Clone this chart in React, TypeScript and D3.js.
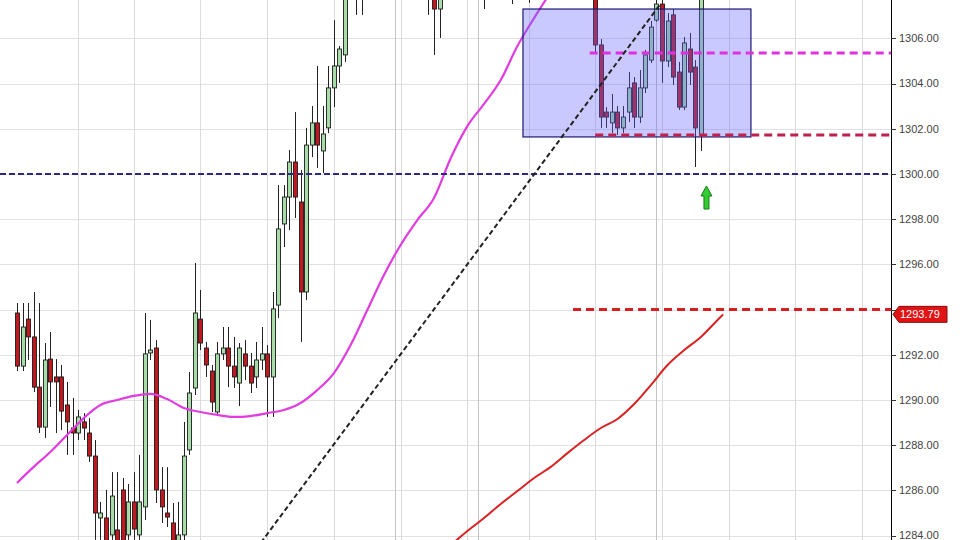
import React from 'react';
import * as d3 from 'd3';

// OHLC per bar (bar index = position in array)
const opens = [
  1293.85, 1291.5, 1293.58, 1292.79, 1290.57, 1288.8, 1291.81, 1291.02, 1291.02, 1289.78,
  1288.76, 1288.54, 1289.03, 1288.54, 1287.52, 1284.78, 1284.78, 1284.03, 1284.25, 1286.02,
  1284.03, 1285.49, 1284.03, 1285.27, 1292.08, 1292.3, 1286.02, 1285.0, 1284.56, 1283.58,
  1284.03, 1287.79, 1290.53, 1293.58, 1292.3, 1291.28, 1289.47, 1292.04, 1292.3, 1291.5,
  1290.75, 1292.04, 1291.5, 1291.02, 1291.77, 1292.04, 1291.02, 1294.2, 1297.79, 1298.98,
  1300.53, 1298.76, 1294.78, 1301.28, 1302.26, 1301.02, 1302.04, 1303.81, 1304.78, 1305.27,
  1309.0, 1309.8, 1308.6, 1309.6, 1310.6, 1311.2, 1310.8, 1310.2, 1309.6, 1310.0,
  1310.8, 1310.2, 1309.4, 1309.0, 1308.4, 1309.2, 1307.3, 1308.6, 1309.6, 1310.4,
  1311.0, 1310.4, 1309.8, 1309.0, 1308.8, 1309.2, 1310.0, 1310.6, 1310.2, 1309.6,
  1309.0, 1309.6, 1309.2, 1308.8, 1309.6, 1310.4, 1310.8, 1311.0, 1310.6, 1310.2,
  1309.6, 1309.0, 1308.6, 1308.4, 1309.4, 1305.71, 1302.74, 1302.26, 1302.74, 1302.04,
  1302.74, 1304.03, 1302.52, 1303.81, 1305.04, 1306.81, 1307.52, 1305.0, 1307.04, 1304.51,
  1302.96, 1305.53, 1304.73, 1301.73,
];
const highs = [
  1294.29, 1294.29, 1294.29, 1294.78, 1294.29, 1292.52, 1293.01, 1291.81, 1291.55, 1290.8,
  1290.09, 1289.56, 1289.42, 1289.2, 1288.23, 1285.49, 1286.02, 1286.81, 1286.81, 1286.55,
  1286.28, 1286.81, 1287.57, 1293.85, 1293.54, 1292.65, 1287.03, 1287.03, 1285.44, 1285.49,
  1289.03, 1291.24, 1296.06, 1294.87, 1292.57, 1291.55, 1292.57, 1293.23, 1293.23, 1292.79,
  1292.52, 1292.65, 1292.08, 1292.57, 1293.23, 1292.43, 1294.78, 1299.51, 1299.51, 1301.06,
  1302.74, 1300.18, 1302.04, 1303.01, 1304.78, 1303.01, 1304.78, 1306.81, 1305.66, 1309.69,
  1310.2, 1310.5, 1310.0, 1311.0, 1311.8, 1312.0, 1311.6, 1311.0, 1310.4, 1311.2,
  1311.5, 1310.8, 1310.2, 1309.8, 1309.4, 1309.6, 1309.0, 1310.0, 1310.8, 1311.4,
  1311.6, 1311.0, 1310.4, 1309.8, 1309.6, 1310.4, 1311.0, 1311.2, 1310.8, 1310.2,
  1310.0, 1310.6, 1309.8, 1310.0, 1310.8, 1311.2, 1311.6, 1311.4, 1311.0, 1310.8,
  1310.2, 1309.6, 1309.2, 1309.0, 1309.8, 1305.97, 1302.96, 1303.54, 1303.01, 1303.01,
  1304.51, 1304.29, 1304.6, 1305.49, 1306.77, 1307.9, 1308.0, 1307.12, 1307.3, 1304.96,
  1306.06, 1306.24, 1305.04, 1309.5,
];
const lows = [
  1291.28, 1291.28, 1291.77, 1290.35, 1288.54, 1288.32, 1289.69, 1288.54, 1288.67, 1287.57,
  1287.57, 1288.23, 1288.23, 1287.26, 1283.81, 1283.81, 1283.36, 1283.81, 1283.14, 1283.14,
  1283.81, 1283.81, 1283.81, 1284.69, 1291.77, 1285.44, 1284.56, 1284.38, 1283.14, 1283.36,
  1283.58, 1287.57, 1290.22, 1292.21, 1291.02, 1289.47, 1289.38, 1291.77, 1290.57, 1290.53,
  1289.73, 1290.88, 1290.31, 1290.53, 1291.33, 1289.25, 1289.25, 1293.63, 1296.77, 1297.52,
  1298.05, 1292.57, 1294.42, 1300.75, 1300.27, 1300.04, 1301.81, 1302.96, 1304.03, 1304.96,
  1308.4, 1307.04, 1307.04, 1309.0, 1310.0, 1310.4, 1309.8, 1309.2, 1308.6, 1309.4,
  1309.8, 1309.0, 1308.4, 1308.0, 1307.04, 1305.27, 1306.02, 1308.0, 1309.0, 1309.8,
  1310.0, 1309.4, 1308.6, 1308.2, 1307.3, 1308.8, 1309.4, 1309.8, 1309.2, 1307.52,
  1308.4, 1308.8, 1307.57, 1308.2, 1309.0, 1309.6, 1310.0, 1310.2, 1309.8, 1309.2,
  1308.6, 1308.2, 1308.0, 1307.9, 1305.4, 1302.04, 1302.04, 1301.81, 1301.73, 1301.81,
  1302.3, 1302.04, 1302.26, 1303.58, 1304.91, 1306.73, 1304.03, 1304.73, 1303.94, 1302.83,
  1302.83, 1303.94, 1300.31, 1301.02,
];
const closes = [
  1291.5, 1293.23, 1292.79, 1290.57, 1288.8, 1291.77, 1290.8, 1290.8, 1289.51, 1289.03,
  1288.54, 1289.25, 1288.76, 1287.52, 1285.0, 1285.0, 1283.58, 1285.75, 1283.45, 1283.58,
  1285.49, 1284.29, 1285.49, 1292.04, 1292.21, 1286.02, 1285.27, 1284.82, 1283.45, 1284.03,
  1287.52, 1290.31, 1293.85, 1292.52, 1291.55, 1289.91, 1292.04, 1292.3, 1291.5, 1291.02,
  1292.3, 1291.5, 1290.75, 1291.77, 1292.04, 1291.02, 1294.03, 1297.57, 1298.98, 1300.53,
  1298.98, 1294.78, 1301.28, 1302.26, 1301.28, 1301.77, 1303.81, 1304.78, 1305.53, 1309.03,
  1309.8, 1308.6, 1309.6, 1310.6, 1311.2, 1310.8, 1310.2, 1309.6, 1310.0, 1310.8,
  1310.2, 1309.4, 1309.0, 1308.4, 1308.8, 1307.3, 1308.6, 1309.6, 1310.4, 1311.0,
  1310.4, 1309.8, 1309.0, 1308.8, 1309.2, 1310.0, 1310.6, 1310.2, 1309.6, 1309.0,
  1309.6, 1309.2, 1308.8, 1309.6, 1310.4, 1310.8, 1311.0, 1310.6, 1310.2, 1309.6,
  1309.0, 1308.6, 1308.4, 1308.9, 1305.71, 1302.52, 1302.52, 1302.74, 1302.04, 1302.52,
  1303.81, 1302.52, 1303.81, 1305.27, 1306.5, 1307.52, 1305.0, 1306.77, 1304.29, 1302.96,
  1305.8, 1304.51, 1302.04, 1309.03,
];

// price axis
const yTicks = [1284, 1286, 1288, 1290, 1292, 1294, 1296, 1298, 1300, 1302, 1304, 1306];

// time grid (bar index)
const gridBars = [11, 21, 33, 45, 57, 69, 81, 92, 104, 116, 128, 140, 152];
const sessionBars = [68, 83, 115];

// pink moving average (bar index / value)
const pinkMaBars = [0, 3, 6, 9, 12, 15, 18, 21, 24, 27, 30, 33, 36, 39, 42, 45, 48, 51, 54, 57, 60, 63, 66, 69, 72, 75, 78, 81, 84, 87, 90, 93, 96];
const pinkMaVals = [
  1286.33, 1287.04, 1287.7, 1288.45, 1289.2, 1289.78, 1290.0, 1290.18, 1290.27, 1290.04,
  1289.65, 1289.47, 1289.34, 1289.25, 1289.29, 1289.42, 1289.56, 1289.87, 1290.44, 1291.19,
  1292.43, 1293.98, 1295.53, 1296.86, 1297.96, 1298.94, 1300.7, 1302.12, 1303.1, 1304.16,
  1305.66, 1306.9, 1308.05,
];

// red moving average
const redMaBars = [78, 81, 84, 87, 90, 93, 96, 99, 102, 105, 108, 111, 114, 117, 120, 123, 126, 127];
const redMaVals = [
  1283.58, 1284.2, 1284.78, 1285.4, 1285.97, 1286.55, 1287.04, 1287.65, 1288.23, 1288.76,
  1289.16, 1289.82, 1290.66, 1291.55, 1292.21, 1292.79, 1293.54, 1293.79,
];

// drawings
const roundLevel = 1300;
const zoneBars = [91, 132];
const zoneVals = [1301.64, 1307.3];
const pinkLevel = 1305.35;
const pinkLevelFrom = 103;
const crimsonLevel = 1301.73;
const crimsonLevelFrom = 104;
const redLevel = 1294.0;
const redLevelFrom = 100;
const trendBars = [43, 115.6];
const trendVals = [1283.4, 1307.48];
const arrowBar = 124;
const arrowVals = [1298.45, 1299.47];
const lastPrice = 1293.79;

export default function App() {
  const width = 960;
  const height = 540;
  const axisX = 891;

  const x = d3.scaleLinear().domain([0, 123]).range([17, 700.9]);
  const y = d3.scaleLinear().domain([1284, 1306]).range([535.6, 38.4]);
  const bodyW = 4;

  const line = d3
    .line<[number, number]>()
    .x(d => x(d[0]))
    .y(d => y(d[1]))
    .curve(d3.curveMonotoneX);

  const pinkPts = pinkMaBars.map((b, i) => [b, pinkMaVals[i]] as [number, number]);
  const redPts = redMaBars.map((b, i) => [b, redMaVals[i]] as [number, number]);

  const ax = x(arrowBar);
  const aTip = y(arrowVals[1]);
  const aBase = y(arrowVals[0]);
  const arrowPath = `M${ax},${aTip} L${ax + 5.5},${aTip + 10} L${ax + 2.5},${aTip + 10} L${ax + 2.5},${aBase} L${ax - 2.5},${aBase} L${ax - 2.5},${aTip + 10} L${ax - 5.5},${aTip + 10} Z`;

  const ly = y(lastPrice);
  // the last-price tag covers the tick label under it
  const shownTicks = yTicks.filter(t => Math.abs(y(t) - ly) > 12);

  return (
    <div style={{ position: 'fixed', left: 0, top: 0 }}>
      <svg width={width} height={height} style={{ display: 'block', background: '#fff' }}>
        <defs>
          <clipPath id="plot">
            <rect x={0} y={0} width={axisX} height={height} />
          </clipPath>
        </defs>
        <g clipPath="url(#plot)">
          {/* grid */}
          {yTicks.map(t => (
            <line key={'h' + t} x1={0} x2={axisX} y1={Math.round(y(t)) + 0.5} y2={Math.round(y(t)) + 0.5} stroke="#e2e2e2" />
          ))}
          {gridBars.map(b => (
            <line key={'v' + b} x1={Math.round(x(b)) + 0.5} x2={Math.round(x(b)) + 0.5} y1={0} y2={height} stroke="#dcdcdc" />
          ))}
          {sessionBars.map(b => (
            <line key={'s' + b} x1={Math.round(x(b)) + 0.5} x2={Math.round(x(b)) + 0.5} y1={0} y2={height} stroke="#c4c4c4" />
          ))}

          {/* candles */}
          {opens.map((o, i) => {
            const c = closes[i];
            const up = c >= o;
            const cx = Math.round(x(i)) + 0.5;
            const top = y(Math.max(o, c));
            const bot = y(Math.min(o, c));
            return (
              <g key={'c' + i}>
                <line x1={cx} x2={cx} y1={y(highs[i])} y2={y(lows[i])} stroke="#222" strokeWidth={1} />
                <rect
                  x={cx - bodyW / 2}
                  y={top}
                  width={bodyW}
                  height={Math.max(1, bot - top)}
                  fill={up ? '#a7dba7' : '#c0181e'}
                  stroke="#1c1c1c"
                  strokeWidth={0.9}
                />
              </g>
            );
          })}

          {/* moving averages */}
          <path d={line(pinkPts) || ''} fill="none" stroke="#e03ce0" strokeWidth={2.2} />
          <path d={line(redPts) || ''} fill="none" stroke="#d82222" strokeWidth={2} />

          {/* zone box */}
          <rect
            x={x(zoneBars[0])}
            y={y(zoneVals[1])}
            width={x(zoneBars[1]) - x(zoneBars[0])}
            height={y(zoneVals[0]) - y(zoneVals[1])}
            fill="#6464ff"
            fillOpacity={0.35}
            stroke="#1a1a70"
            strokeWidth={1.2}
          />

          {/* horizontal levels */}
          <line x1={0} x2={axisX} y1={y(roundLevel)} y2={y(roundLevel)} stroke="#2a2a80" strokeWidth={2} strokeDasharray="6,3" />
          <line x1={x(pinkLevelFrom)} x2={axisX} y1={y(pinkLevel)} y2={y(pinkLevel)} stroke="#e030e0" strokeWidth={3} strokeDasharray="8,5" />
          <line x1={x(crimsonLevelFrom)} x2={axisX} y1={y(crimsonLevel)} y2={y(crimsonLevel)} stroke="#c0204c" strokeWidth={3} strokeDasharray="8,5" />
          <line x1={x(redLevelFrom)} x2={axisX} y1={y(redLevel)} y2={y(redLevel)} stroke="#d42020" strokeWidth={3} strokeDasharray="8,5" />

          {/* trend line */}
          <line
            x1={x(trendBars[0])}
            y1={y(trendVals[0])}
            x2={x(trendBars[1])}
            y2={y(trendVals[1])}
            stroke="#222"
            strokeWidth={2}
            strokeDasharray="5,3"
          />

          {/* arrow */}
          <path d={arrowPath} fill="#33cc33" stroke="#157a15" strokeWidth={1} />
        </g>

        {/* price axis */}
        <line x1={axisX + 0.5} x2={axisX + 0.5} y1={0} y2={height} stroke="#000" />
        {yTicks.map(t => (
          <line key={'tk' + t} x1={axisX} x2={axisX + 5} y1={Math.round(y(t)) + 0.5} y2={Math.round(y(t)) + 0.5} stroke="#333" />
        ))}
        {shownTicks.map(t => (
          <text key={'t' + t} x={axisX + 8} y={y(t)} dy="0.35em" fontSize={11} fontFamily="Liberation Sans, Arial, sans-serif" fill="#444">
            {t.toFixed(2)}
          </text>
        ))}
        <path
          d={`M${axisX + 2},${ly} L${axisX + 8},${ly - 8} L${axisX + 56},${ly - 8} L${axisX + 56},${ly + 8} L${axisX + 8},${ly + 8} Z`}
          fill="#e01414"
          stroke="#8a0a0a"
        />
        <text x={axisX + 9} y={ly} dy="0.35em" fontSize={11} fontFamily="Liberation Sans, Arial, sans-serif" fill="#fff">
          {lastPrice.toFixed(2)}
        </text>
      </svg>
    </div>
  );
}
